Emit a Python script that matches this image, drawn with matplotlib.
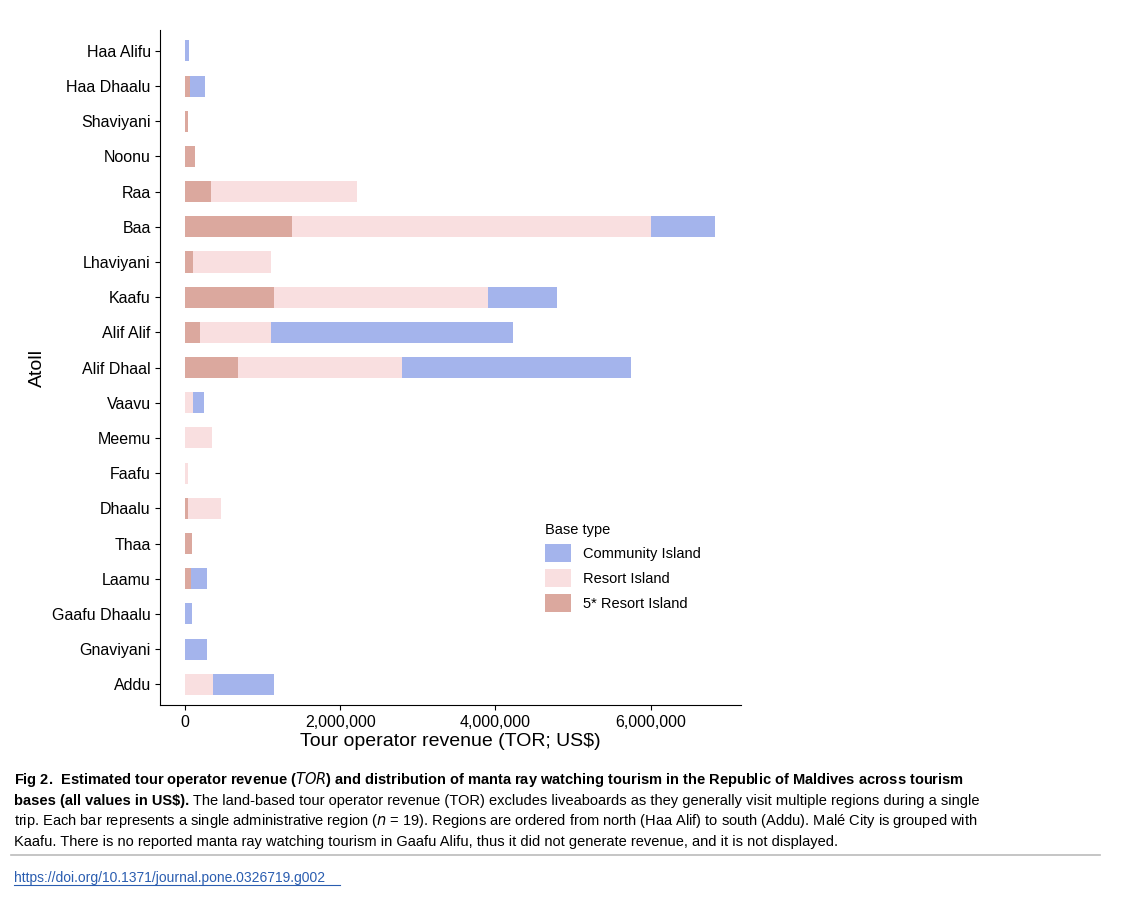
import matplotlib
matplotlib.use("Agg")
import matplotlib.pyplot as plt
from matplotlib.ticker import FuncFormatter
import numpy as np

plt.rcParams['font.family'] = ['Liberation Sans', 'DejaVu Sans']

atolls = ["Haa Alifu","Haa Dhaalu","Shaviyani","Noonu","Raa","Baa","Lhaviyani","Kaafu",
          "Alif Alif","Alif Dhaal","Vaavu","Meemu","Faafu","Dhaalu","Thaa","Laamu",
          "Gaafu Dhaalu","Gnaviyani","Addu"]
five_star = [0, 65000, 30000, 130000, 335000, 1370000, 100000, 1140000, 190000, 680000,
             0, 0, 0, 30000, 90000, 80000, 0, 0, 0]
resort = [0, 0, 0, 0, 1885000, 4630000, 1000000, 2760000, 910000, 2120000,
          100000, 350000, 40000, 430000, 0, 0, 0, 0, 360000]
community = [50000, 195000, 0, 0, 0, 830000, 0, 890000, 3120000, 2950000,
             145000, 0, 0, 0, 0, 200000, 90000, 280000, 780000]

c_comm, c_res, c_five = "#a4b4ec", "#f9dfe0", "#dba89e"

fig = plt.figure(figsize=(11.22, 9.02), dpi=100)
ax = fig.add_axes([0.143, 0.218, 0.517, 0.749])
y = np.arange(len(atolls))
f = np.array(five_star); r = np.array(resort); c = np.array(community)
ax.barh(y, f, height=0.6, color=c_five, label="5* Resort Island")
ax.barh(y, r, left=f, height=0.6, color=c_res, label="Resort Island")
ax.barh(y, c, left=f + r, height=0.6, color=c_comm, label="Community Island")
ax.set_yticks(y)
ax.set_yticklabels(atolls, fontsize=11.5)
ax.set_ylim(len(atolls) - 0.4, -0.6)
ax.set_xlim(-320000, 7160000)
ax.set_xticks([0, 2000000, 4000000, 6000000])
ax.xaxis.set_major_formatter(FuncFormatter(lambda v, p: f"{int(v):,}"))
ax.tick_params(axis='x', labelsize=11.5)
ax.set_xlabel("Tour operator revenue (TOR; US$)", fontsize=14, labelpad=2)
ax.set_ylabel("Atoll", fontsize=14)
for s in ["top", "right"]:
    ax.spines[s].set_visible(False)
h, l = ax.get_legend_handles_labels()
leg = ax.legend(h[::-1], l[::-1], title="Base type", loc="upper left",
                bbox_to_anchor=(0.64, 0.29), frameon=False, fontsize=10.5,
                title_fontsize=10.5, handlelength=1.8, handleheight=1.5)
leg._legend_box.align = "left"

fs = 10.5
fig.text(0.0125, 0.123 + 0.0, "")
lines_y = [0.131, 0.108, 0.085, 0.062]
fig.text(0.0125, lines_y[0], "Fig 2.  Estimated tour operator revenue ($\\bf{\\it{TOR}}$) and distribution of manta ray watching tourism in the Republic of Maldives across tourism",
         fontsize=fs, fontweight='bold')
t = fig.text(0.0125, lines_y[1], "bases (all values in US$).", fontsize=fs, fontweight='bold')
fig.canvas.draw()
bb = t.get_window_extent().transformed(fig.transFigure.inverted())
fig.text(bb.x1, lines_y[1], " The land-based tour operator revenue (TOR) excludes liveaboards as they generally visit multiple regions during a single",
         fontsize=fs)
fig.text(0.0125, lines_y[2], "trip. Each bar represents a single administrative region ($\\it{n}$ = 19). Regions are ordered from north (Haa Alif) to south (Addu). Malé City is grouped with",
         fontsize=fs)
fig.text(0.0125, lines_y[3], "Kaafu. There is no reported manta ray watching tourism in Gaafu Alifu, thus it did not generate revenue, and it is not displayed.",
         fontsize=fs)
fig.add_artist(plt.Line2D([0.01, 0.98], [0.052, 0.052], color="#bbbbbb", lw=1.2))
fig.text(0.0125, 0.022, "https://doi.org/10.1371/journal.pone.0326719.g002", fontsize=10,
         color="#2a5db0")
fig.add_artist(plt.Line2D([0.0125, 0.303], [0.019, 0.019], color="#2a5db0", lw=0.8))

fig.savefig("out.png", dpi=100)
